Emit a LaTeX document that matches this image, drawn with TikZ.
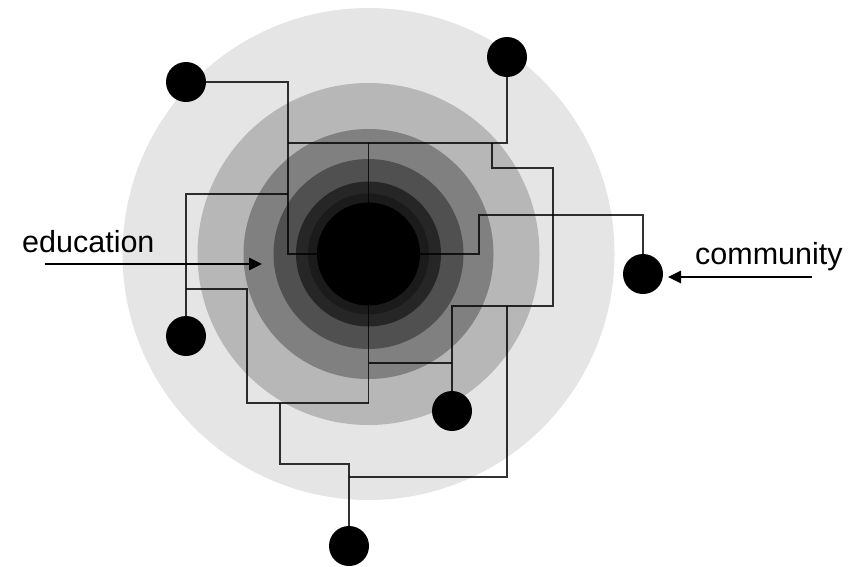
\documentclass[tikz,border=0pt]{standalone}
\usepackage{fontspec}
\setmainfont{Liberation Sans}
\usetikzlibrary{arrows.meta}

\definecolor{ringA}{HTML}{E5E5E5}
\definecolor{ringB}{HTML}{B7B7B7}
\definecolor{ringC}{HTML}{808080}
\definecolor{ringD}{HTML}{505050}
\definecolor{ringE}{HTML}{262626}
\definecolor{ringF}{HTML}{1B1B1B}

\tikzset{
  dot/.style={circle, fill=black, inner sep=0pt, minimum size=40pt},
  wire/.style={draw=black, draw opacity=0.8, line width=1.5pt},
  pointer/.style={draw=black, line width=1.3pt, -{Triangle[length=13pt,width=12.5pt]}},
  label/.style={anchor=base west, inner sep=0pt, font=\fontsize{30.5}{36}\selectfont}
}

\begin{document}
\begin{tikzpicture}[x=1pt, y=-1pt]
  \useasboundingbox (0,0) rectangle (861,566);

  % concentric discs
  \coordinate (c) at (368.5,254);
  \fill[ringA] (c) circle[radius=246];
  \fill[ringB] (c) circle[radius=171];
  \fill[ringC] (c) circle[radius=125];
  \fill[ringD] (c) circle[radius=95];
  \fill[ringE] (c) circle[radius=72.5];
  \fill[ringF] (c) circle[radius=60.5];
  \fill[black] (c) circle[radius=51.5];

  % outer nodes
  \node[dot] (tl) at (186,82) {};
  \node[dot] (tr) at (507,57) {};
  \node[dot] (cm) at (643,274) {};
  \node[dot] (lb) at (186,336) {};
  \node[dot] (br) at (452,411) {};
  \node[dot] (bt) at (349,546) {};

  % junction points
  \coordinate (j1) at (288,82);
  \coordinate (j2) at (288,254);
  \coordinate (j3) at (479,254);
  \coordinate (j4) at (479,215);
  \coordinate (j5) at (507,143);
  \coordinate (j6) at (288,143);
  \coordinate (j7) at (368.5,143);
  \coordinate (j8) at (368.5,403);
  \coordinate (j9) at (492,143);
  \coordinate (j10) at (553,168);
  \coordinate (j11) at (553,306);
  \coordinate (j12) at (368.5,363);
  \coordinate (j13) at (452,363);
  \coordinate (j14) at (288,194);
  \coordinate (j15) at (186,289);
  \coordinate (j16) at (247,403);
  \coordinate (j17) at (280,403);
  \coordinate (j18) at (349,464);
  \coordinate (j19) at (349,477);
  \coordinate (j20) at (507,306);

  % connectors
  \draw[wire] (tl) -- (j1) -- (j2) -- (j3) -- (j4) -| (cm);
  \draw[wire] (tr) -- (j5) -- (j6);
  \draw[wire] (j7) -- (j8);
  \draw[wire] (j9) |- (j10) -- (j11) -| (br);
  \draw[wire] (j12) -- (j13);
  \draw[wire] (lb) |- (j14);
  \draw[wire] (j15) -| (j16) -- (j8);
  \draw[wire] (j17) |- (j18) -- (bt);
  \draw[wire] (j19) -| (j20);

  % labels with pointers
  \node[label] (edu) at (22,252) {education};
  \coordinate (edu-tail) at (45,264);
  \coordinate (edu-tip) at (262,264);
  \draw[pointer] (edu-tail) -- (edu-tip);

  \node[label] (com) at (695,264) {community};
  \coordinate (com-tail) at (812,277);
  \coordinate (com-tip) at (668,277);
  \draw[pointer] (com-tail) -- (com-tip);
\end{tikzpicture}
\end{document}
